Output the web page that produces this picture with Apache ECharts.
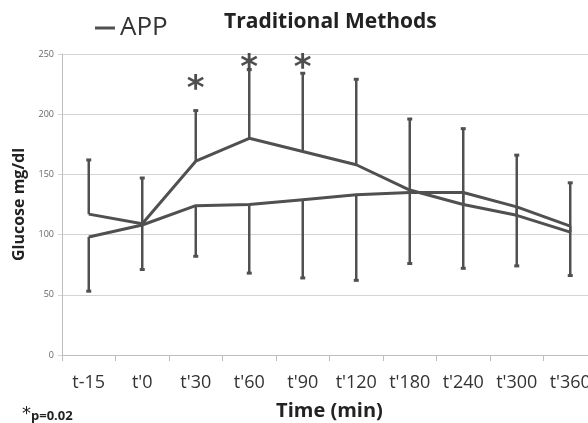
<!DOCTYPE html>
<html>
<head>
<meta charset="utf-8">
<script src="https://cdn.jsdelivr.net/npm/echarts@6/dist/echarts.min.js"></script>
<style>
  html, body { margin: 0; padding: 0; background: #fff; }
  #chart { width: 588px; height: 423px; }
</style>
</head>
<body>
<div id="chart"></div>
<script>
// values
const categories = ["t-15", "t'0", "t'30", "t'60", "t'90", "t'120", "t'180", "t'240", "t'300", "t'360"];
const appValues = [117, 109, 161, 180, 169, 158, 137, 125, 116, 102];
const tradValues = [98, 108, 124, 125, 129, 133, 135, 135, 123, 107];
const errorTop = [162, 147, 203, 237, 234, 229, 196, 188, 166, 143];
const errorBottom = [53, 71, 82, 68, 64, 62, 76, 72, 74, 66];
const starCategories = ["t'30", "t'60", "t'90"];
const starValues = [220, 237, 237];

const dark = '#505050';

const upperBars = categories.map((c, i) => [i, appValues[i], errorTop[i]]);
const lowerBars = categories.map((c, i) => [i, tradValues[i], errorBottom[i]]);

function whisker(params, api) {
  const x = api.value(0);
  const p0 = api.coord([x, api.value(1)]);
  const p1 = api.coord([x, api.value(2)]);
  return {
    type: 'group',
    children: [
      { type: 'line', shape: { x1: p0[0], y1: p0[1], x2: p1[0], y2: p1[1] }, style: { stroke: dark, lineWidth: 2.5 } },
      { type: 'rect', shape: { x: p1[0] - 2.5, y: p1[1] - 1.5, width: 5, height: 3 }, style: { fill: dark } },
    ],
  };
}

const chart = echarts.init(document.getElementById('chart'));
chart.setOption({
  animation: false,
  textStyle: { fontFamily: 'Open Sans' },
  title: {
    text: 'Traditional Methods',
    left: 224,
    top: 12,
    padding: 0,
    textStyle: { fontSize: 21, fontWeight: 'bold', color: '#222', fontFamily: 'Open Sans' },
  },
  legend: {
    data: ['APP'],
    left: 95,
    top: 15,
    padding: 0,
    icon: 'rect',
    itemWidth: 20,
    itemHeight: 3,
    textStyle: { fontSize: 26, color: '#333', fontFamily: 'Open Sans' },
  },
  grid: { left: 62, top: 54, width: 535, height: 301, outerBoundsMode: 'none' },
  xAxis: {
    type: 'category',
    data: categories,
    boundaryGap: true,
    name: 'Time (min)',
    nameLocation: 'middle',
    nameGap: 46,
    nameTextStyle: { fontSize: 20, fontWeight: 'bold', color: '#222' },
    axisLine: { lineStyle: { color: '#bdbdbd' } },
    axisTick: { show: true, length: 6, lineStyle: { color: '#bdbdbd' } },
    axisLabel: { fontSize: 18, color: '#333', margin: 19, interval: 0 },
  },
  yAxis: {
    type: 'value',
    min: 0,
    max: 250,
    interval: 50,
    name: 'Glucose mg/dl',
    nameLocation: 'middle',
    nameGap: 29,
    nameTextStyle: { fontSize: 16, fontWeight: 'bold', color: '#222' },
    axisLine: { show: true, lineStyle: { color: '#bdbdbd' } },
    axisTick: { show: true, length: 4, lineStyle: { color: '#d4d4d4' } },
    axisLabel: { fontSize: 9, color: '#666', margin: 8 },
    splitLine: { lineStyle: { color: '#d4d4d4' } },
  },
  series: [
    {
      name: 'APP',
      type: 'line',
      data: appValues,
      symbol: 'none',
      lineStyle: { color: dark, width: 3 },
      itemStyle: { color: dark },
    },
    {
      name: 'Traditional Methods',
      type: 'line',
      data: tradValues,
      symbol: 'none',
      lineStyle: { color: dark, width: 3 },
      itemStyle: { color: dark },
    },
    { type: 'custom', renderItem: whisker, data: upperBars, encode: { x: 0, y: [1, 2] }, z: 1 },
    { type: 'custom', renderItem: whisker, data: lowerBars, encode: { x: 0, y: [1, 2] }, z: 1 },
    {
      type: 'scatter',
      data: starCategories.map((c, i) => [c, starValues[i]]),
      symbolSize: 1,
      itemStyle: { color: 'transparent' },
      label: {
        show: true,
        position: 'inside',
        formatter: '*',
        fontSize: 34,
        fontWeight: 'bold',
        color: '#222',
        fontFamily: 'DejaVu Sans',
      },
    },
  ],
  graphic: [
    { type: 'text', left: 22, top: 405, style: { text: '*', fontSize: 18, fill: '#222', fontFamily: 'DejaVu Sans' } },
    { type: 'text', left: 31, top: 410, style: { text: 'p=0.02', fontSize: 13, fontWeight: 'bold', fill: '#222', fontFamily: 'Open Sans' } },
  ],
});
</script>
</body>
</html>
